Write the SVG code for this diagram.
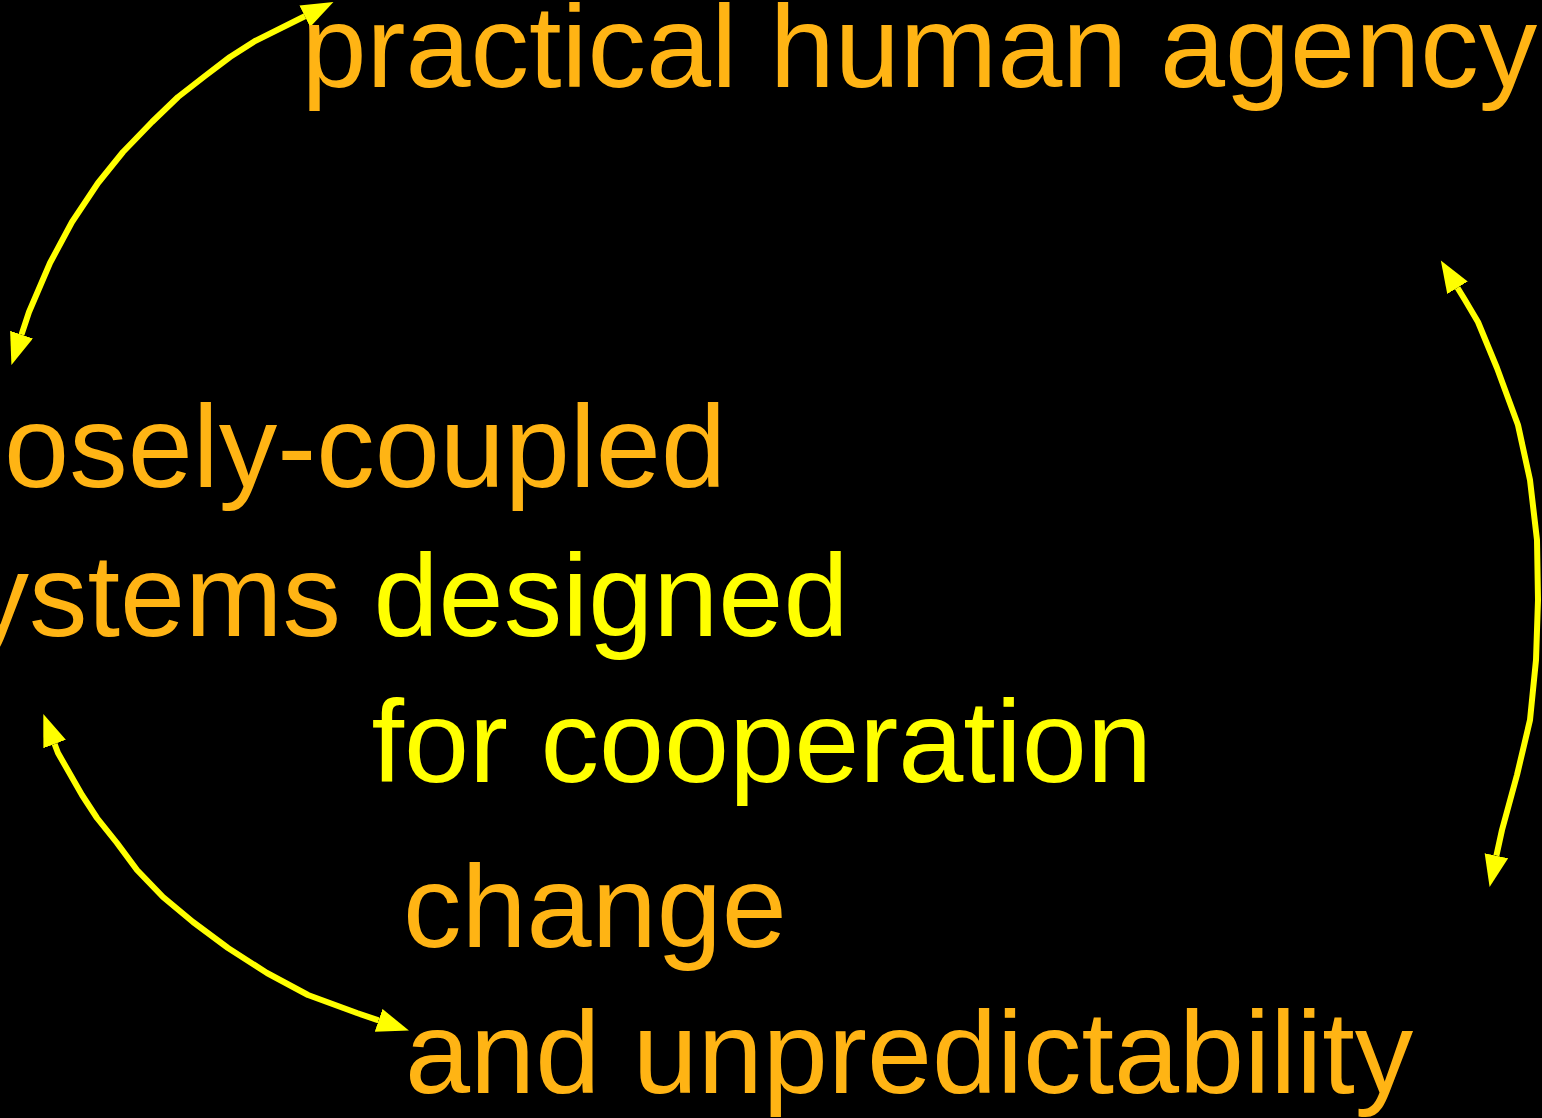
<svg xmlns="http://www.w3.org/2000/svg" width="1542" height="1118" viewBox="0 0 1542 1118">
<defs>
<style>
.t{font-family:"Liberation Sans",Arial,Helvetica,sans-serif;font-size:117px}
.o{fill:#FFB414}
.y{fill:#FFFF00}
.c{fill:none;stroke:#FFFF00;stroke-width:6;stroke-linejoin:round;marker-start:url(#ah);marker-end:url(#ah)}
</style>
<marker id="ah" markerUnits="userSpaceOnUse" markerWidth="34" markerHeight="26" refX="0" refY="12" orient="auto-start-reverse" viewBox="0 0 34 26">
<path d="M0,0 L32,12 L0,24 Z" fill="#FFFF00"/>
</marker>
</defs>
<rect width="1542" height="1118" fill="#000"/>
<g id="connectors">
<polyline class="c" points="21.5,334.6 29,312 50,263 72,222 98,183 123,152 152,122 178,97 205,76 230,57 255,41 304.8,16.2"/>
<polyline class="c" points="1457.5,287.7 1465,300 1478,322 1497,368 1518,425 1530,480 1537,540 1538,600 1536,660 1530,720 1517,775 1502,830 1496.4,855.7"/>
<polyline class="c" points="54.6,744 58,753 82,795 97,818 117,843 137,870 163,897 193,922 228,948 267,973 308,995 357,1013 378.6,1020.3"/>
</g>
<g id="node-agency">
<text class="t o" x="301.5" y="86.5">practical human agency</text>
</g>
<g id="node-systems">
<text class="t o" x="-87" y="487">loosely-coupled</text>
<text class="t" x="-88" y="636"><tspan class="o">systems </tspan><tspan class="y">designed</tspan></text>
<text class="t y" x="371.5" y="782">for cooperation</text>
</g>
<g id="node-change">
<text class="t o" x="403" y="947">change</text>
<text class="t o" x="405" y="1092.5">and unpredictability</text>
</g>
</svg>
